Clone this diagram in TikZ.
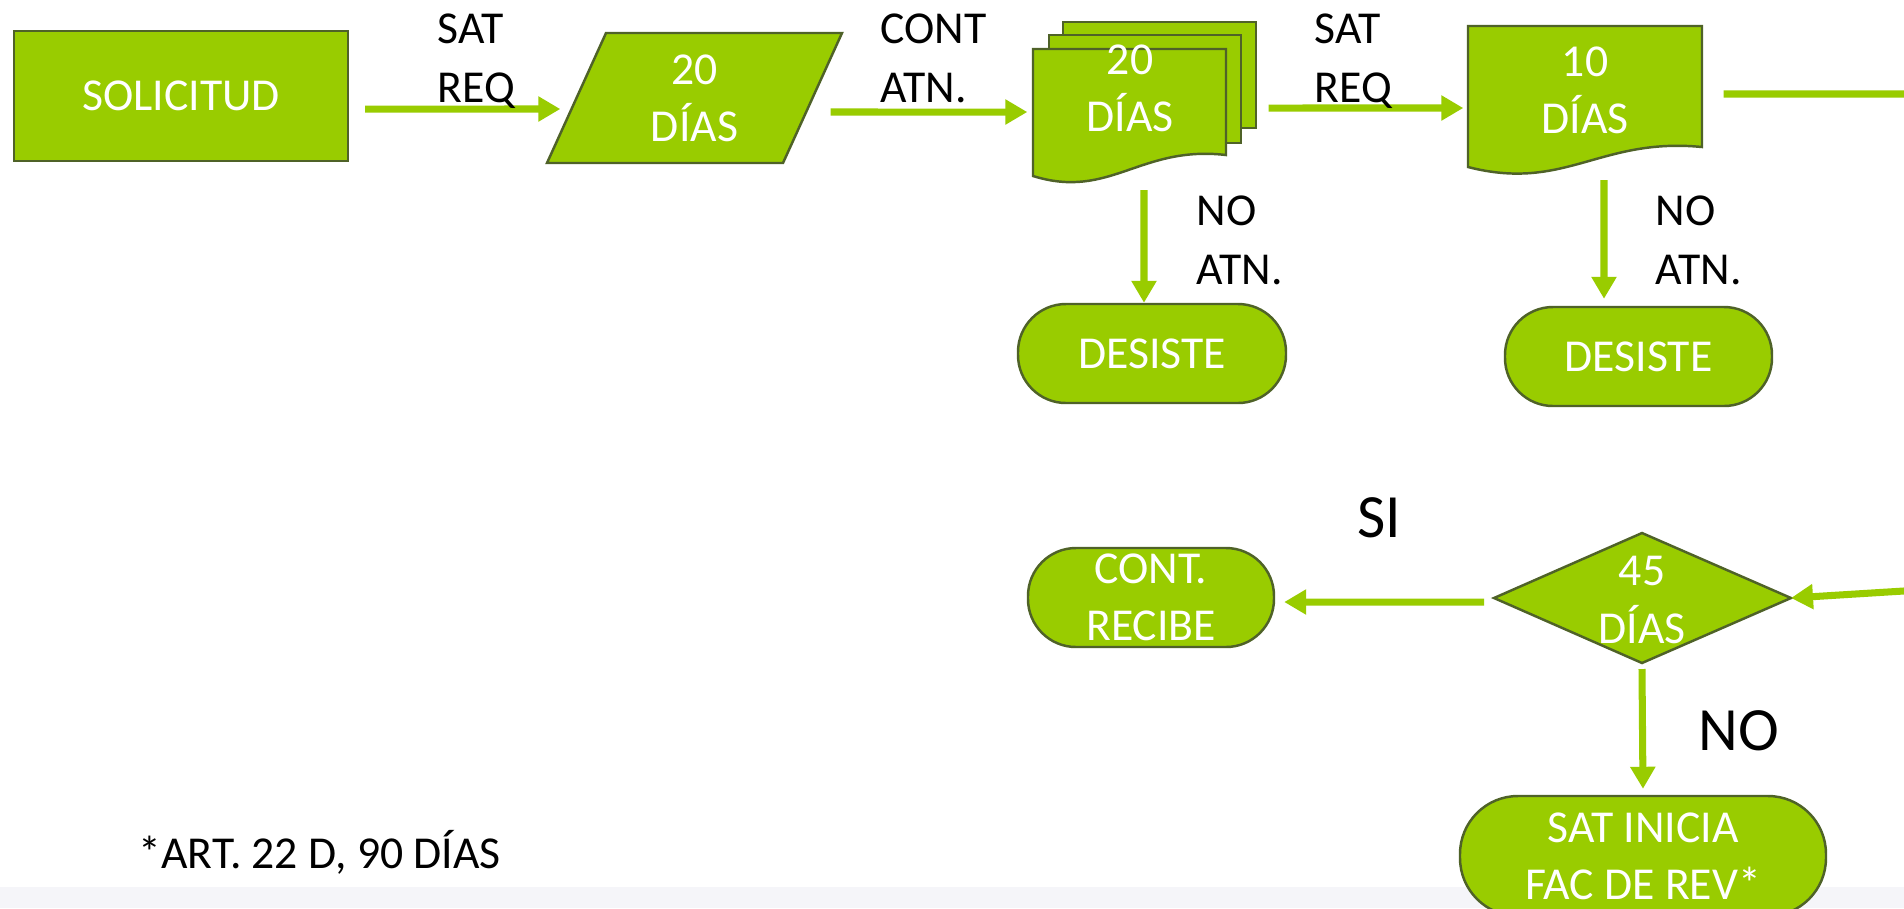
\documentclass[tikz,border=0pt]{standalone}
\usepackage{fontspec}
\setmainfont{Carlito}
\usepackage{xcolor}
\usepackage{tikz}
\usetikzlibrary{arrows.meta}
\definecolor{leaf}{HTML}{99CC00}
\definecolor{rim}{HTML}{4F6228}
\definecolor{strip}{HTML}{F5F5F9}
\tikzset{
  shapeline/.style={draw=rim, fill=leaf, line width=0.7pt},
  flow/.style={draw=leaf, line width=2pt, -{Triangle[length=0.22cm,width=0.24cm]}},
  inlab/.style={text=white, font=\fontsize{13}{16.3}\selectfont, align=center, inner sep=0pt},
  endbox/.style={shapeline, inlab, rounded corners=0.48cm},
  lab/.style={text=black, font=\fontsize{13}{16.8}\selectfont, align=left, inner sep=0pt, anchor=north west},
  biglab/.style={text=black, font=\fontsize{17.5}{21}\selectfont, inner sep=0pt, anchor=north west},
}
\begin{document}
\begin{tikzpicture}
\useasboundingbox (0,0) rectangle (19.04,-9.08);
\fill[white] (0,0) rectangle (19.04,-9.08);
\fill[strip] (0,-8.87) rectangle (19.04,-9.08);

% top row
\node[shapeline, inlab, minimum width=3.34cm, minimum height=1.30cm] (sol) at (1.81,-0.96) {SOLICITUD};

\draw[shapeline] (5.47,-1.63) -- (6.06,-0.33) -- (8.42,-0.33) -- (7.83,-1.63) -- cycle;
\node[inlab, minimum width=2.95cm, minimum height=1.30cm] (par) at (6.945,-0.98) {20\\DÍAS};

\draw[shapeline] (10.63,-0.22) rectangle (12.56,-1.28);
\draw[shapeline] (10.49,-0.35) rectangle (12.41,-1.43);
\draw[shapeline] (10.33,-0.49) -- (12.26,-0.49) -- (12.26,-1.55)
  .. controls (11.4,-1.45) and (11.1,-2.0) .. (10.33,-1.76) -- cycle;
\node[inlab, minimum width=1.93cm] (mdoc) at (11.30,-0.88) {20\\DÍAS};
\coordinate (mdocB) at (11.44,-1.90);

\draw[shapeline] (14.68,-0.26) -- (17.02,-0.26) -- (17.02,-1.47)
  .. controls (16.0,-1.37) and (15.65,-1.92) .. (14.68,-1.67) -- cycle;
\node[inlab, minimum width=2.34cm] (doc10) at (15.85,-0.90) {10\\DÍAS};
\coordinate (doc10B) at (16.04,-1.80);

% second row
\node[endbox, minimum width=2.68cm, minimum height=0.99cm] (desiste1) at (11.52,-3.535) {DESISTE};
\node[endbox, minimum width=2.67cm, minimum height=0.99cm] (desiste2) at (16.385,-3.565) {DESISTE};

% decision
\coordinate (diaW) at (14.94,-5.98);
\coordinate (diaN) at (16.42,-5.33);
\coordinate (diaE) at (17.91,-5.98);
\coordinate (diaS) at (16.42,-6.63);
\draw[shapeline] (diaW) -- (diaN) -- (diaE) -- (diaS) -- cycle;
\node[inlab] (dia) at (16.42,-6.00) {45\\DÍAS};

\node[endbox, minimum width=2.46cm, minimum height=0.99cm] (recibe) at (11.51,-5.975) {CONT.\\RECIBE};
\node[endbox, rounded corners=0.58cm, minimum width=3.66cm, minimum height=1.20cm] (satini) at (16.43,-8.56) {SAT INICIA\\FAC DE REV*};

% off the page
\coordinate (turn1) at (19.6,-0.94);
\coordinate (turn2) at (19.6,-5.875);

% connectors
\draw[flow] ([shift={(0.16,-0.13)}]sol.east) -- ([shift={(0.14,-0.11)}]par.west);
\draw[flow] ([shift={(-0.12,-0.14)}]par.east) -- ([shift={(-0.055,-0.24)}]mdoc.west);
\draw[flow] ([shift={(0.415,-0.20)}]mdoc.east) -- ([shift={(-0.04,-0.18)}]doc10.west);
\draw[flow] ([shift={(0.21,-0.04)}]doc10.east) -- (turn1) -- (turn2) -- (diaE);
\draw[flow] (mdocB) -- ([xshift=-0.08cm]desiste1.north);
\draw[flow] (doc10B) -- ([shift={(-0.345,0.07)}]desiste2.north);
\draw[flow] ([xshift=-0.10cm,yshift=-0.04cm]diaW) -- ([shift={(0.09,-0.045)}]recibe.east);
\draw[flow] ([yshift=-0.06cm]diaS) -- ([yshift=0.06cm]satini.north);

% labels
\node[lab] (req1) at (4.37,-0.13) {SAT\\REQ};
\node[lab] (atn1) at (8.80,-0.13) {CONT\\ATN.};
\node[lab] (req2) at (13.14,-0.13) {SAT\\REQ};
\node[lab] (noatn1) at (11.96,-1.95) {NO\\ATN.};
\node[lab] (noatn2) at (16.55,-1.95) {NO\\ATN.};
\node[biglab] (si) at (13.57,-4.97) {SI};
\node[biglab] (no) at (16.98,-7.10) {NO};
\node[text=black, font=\fontsize{13}{16}\selectfont, inner sep=0pt, anchor=base west] (nota) at (1.38,-8.68) {*ART. 22 D, 90 DÍAS};
\end{tikzpicture}
\end{document}
